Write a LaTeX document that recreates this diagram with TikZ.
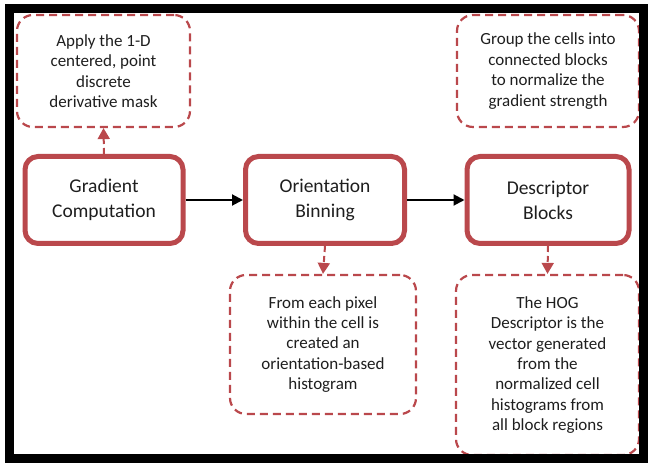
\documentclass[tikz,border=0pt]{standalone}
\usepackage{fontspec}
\setmainfont{Carlito}
\usepackage{xcolor}
\usetikzlibrary{shapes, arrows.meta, positioning}
\definecolor{boxred}{RGB}{186,72,76}
\definecolor{txtgray}{RGB}{30,30,30}

\begin{document}
\begin{tikzpicture}[x=1pt, y=1pt,
		stage/.style={draw=boxred, line width=5pt, rounded corners=13pt, align=center, text=txtgray, font=\fontsize{19.5}{25}\selectfont, inner sep=0pt},
		note/.style={draw=boxred, line width=2.2pt, dash pattern=on 8pt off 5pt, rounded corners=16pt, align=center, text=txtgray, font=\fontsize{17}{20.4}\selectfont, inner sep=0pt},
		flow/.style={line width=2pt, -{Triangle[length=11pt, width=11pt]}},
		hint/.style={draw=boxred, line width=2pt, dash pattern=on 6pt off 4pt, -{Triangle[length=11pt, width=12pt, fill=boxred]}}]
				\useasboundingbox (0,0) rectangle (648,463);
				
				\node[stage, minimum width=158pt, minimum height=87pt] (G) at (104,263) {Gradient\\Computation};
				\node[stage, minimum width=159pt, minimum height=87pt] (O) at (325,263) {Orientation\\Binning};
				\node[stage, minimum width=162pt, minimum height=87pt] (D) at (548,263) {Descriptor\\Blocks};
				
				\node[note, minimum width=173pt, minimum height=112pt] (A) at (103.5,392) {Apply the 1-D\\centered, point\\discrete\\derivative mask};
				\node[note, minimum width=182pt, minimum height=112pt] (C) at (548,392) {Group the cells into\\connected blocks\\to normalize the\\gradient strength};
				\node[note, minimum width=186pt, minimum height=139pt] (P) at (323,118.5) {From each pixel\\within the cell is\\created an\\orientation-based\\histogram};
				\node[note, minimum width=183pt, minimum height=180pt] (H) at (547.5,98) {The HOG\\Descriptor is the\\vector generated\\from the\\normalized cell\\histograms from\\all block regions};
				
				\draw[flow] (G) -- (O);
				\draw[flow] (O) -- (D);
				
				\draw[hint] (G.north) -- (A.south);
				\draw[hint] (O.south) -- (P.north);
				\draw[hint] (D.south) -- (H.north);
				
				\draw[line width=9pt] (9.5,454) rectangle (643.5,4);
			\end{tikzpicture}
\end{document}
